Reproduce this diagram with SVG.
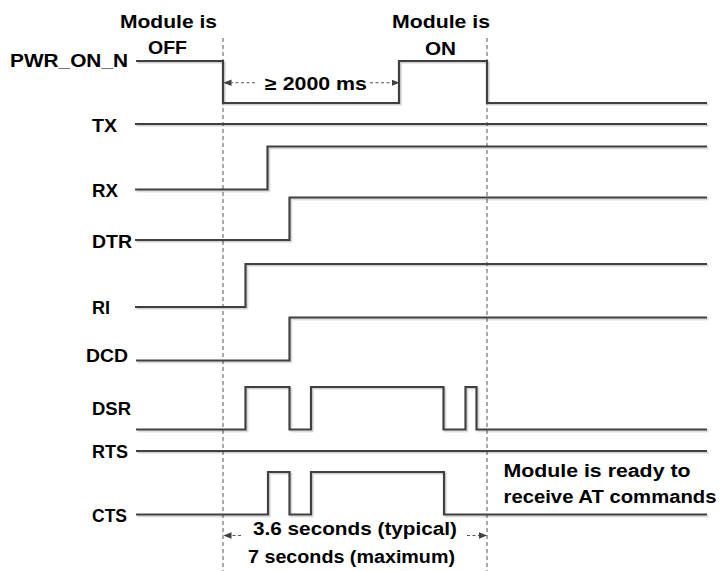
<svg xmlns="http://www.w3.org/2000/svg" width="726" height="571" viewBox="0 0 726 571">
<defs>
<style>
.lbl{font-family:"Liberation Sans",Arial,sans-serif;font-weight:bold;font-size:18px;fill:#000}
.wave{fill:none;stroke:#404040;stroke-width:2.2;stroke-linejoin:miter;filter:url(#sh)}
.guide{fill:none;stroke:#555;stroke-width:1;stroke-dasharray:4,3}
.dim{fill:none;stroke:#555;stroke-width:1.1;stroke-dasharray:3,2.5}
</style>
<filter id="sh" filterUnits="userSpaceOnUse" x="0" y="0" width="726" height="571">
<feDropShadow dx="1.5" dy="1.5" stdDeviation="0.6" flood-color="#000" flood-opacity="0.18"/>
</filter>
<marker id="ah" viewBox="0 0 8 8" refX="7.5" refY="4" markerWidth="8" markerHeight="8" markerUnits="userSpaceOnUse" orient="auto-start-reverse">
<path d="M0,0.8 L8,4 L0,7.2 Z" fill="#404040"/>
</marker>
</defs>
<rect width="726" height="571" fill="#fff"/>

<g id="guides">
<line class="guide" x1="223" y1="38" x2="223" y2="571"/>
<line class="guide" x1="487" y1="38" x2="487" y2="571"/>
</g>

<g id="state-labels">
<text class="lbl" x="120" y="28" textLength="97" lengthAdjust="spacingAndGlyphs">Module is</text>
<text class="lbl" x="148" y="54" textLength="39" lengthAdjust="spacingAndGlyphs">OFF</text>
<text class="lbl" x="392" y="28" textLength="98" lengthAdjust="spacingAndGlyphs">Module is</text>
<text class="lbl" x="425" y="54.5" textLength="31" lengthAdjust="spacingAndGlyphs">ON</text>
</g>

<g id="sig-pwr">
<text class="lbl" x="10" y="67" textLength="118" lengthAdjust="spacingAndGlyphs">PWR_ON_N</text>
<path class="wave" d="M136,61 H223 V103 H399 V61 H487 V103 H707"/>
</g>
<g id="sig-tx">
<text class="lbl" x="92" y="132" textLength="25" lengthAdjust="spacingAndGlyphs">TX</text>
<path class="wave" d="M135,124 H707"/>
</g>
<g id="sig-rx">
<text class="lbl" x="92" y="196.5" textLength="26" lengthAdjust="spacingAndGlyphs">RX</text>
<path class="wave" d="M135,189.5 H267.5 V146.5 H707"/>
</g>
<g id="sig-dtr">
<text class="lbl" x="92" y="247.5" textLength="40" lengthAdjust="spacingAndGlyphs">DTR</text>
<path class="wave" d="M135,240 H289.5 V197.5 H707"/>
</g>
<g id="sig-ri">
<text class="lbl" x="92" y="314" textLength="18" lengthAdjust="spacingAndGlyphs">RI</text>
<path class="wave" d="M135,307 H245.5 V264 H707"/>
</g>
<g id="sig-dcd">
<text class="lbl" x="86" y="362" textLength="42" lengthAdjust="spacingAndGlyphs">DCD</text>
<path class="wave" d="M136,360.5 H289.5 V317.5 H707"/>
</g>
<g id="sig-dsr">
<text class="lbl" x="92" y="415" textLength="39" lengthAdjust="spacingAndGlyphs">DSR</text>
<path class="wave" d="M136,429.5 H245.5 V387 H289.5 V429.5 H311 V387 H443.5 V429.5 H465.5 V387 H476.5 V429.5 H707"/>
</g>
<g id="sig-rts">
<text class="lbl" x="92" y="458" textLength="36" lengthAdjust="spacingAndGlyphs">RTS</text>
<path class="wave" d="M136,451 H707"/>
</g>
<g id="sig-cts">
<text class="lbl" x="92" y="522" textLength="35" lengthAdjust="spacingAndGlyphs">CTS</text>
<path class="wave" d="M136,514.5 H268 V472 H289.5 V514.5 H311 V472 H444 V514.5 H707"/>
</g>

<g id="connectors">
<line class="dim" x1="255" y1="82.7" x2="224" y2="82.7" marker-end="url(#ah)"/>
<line class="dim" x1="370" y1="82.7" x2="399" y2="82.7" marker-end="url(#ah)"/>
<line class="dim" x1="241" y1="535.5" x2="224" y2="535.5" marker-end="url(#ah)"/>
<line class="dim" x1="467" y1="535.5" x2="486.5" y2="535.5" marker-end="url(#ah)"/>
</g>

<g id="annotations">
<text class="lbl" x="265" y="90" textLength="102" lengthAdjust="spacingAndGlyphs">≥ 2000 ms</text>
<text class="lbl" x="253" y="535" textLength="204" lengthAdjust="spacingAndGlyphs">3.6 seconds (typical)</text>
<text class="lbl" x="248" y="563" textLength="207" lengthAdjust="spacingAndGlyphs">7 seconds (maximum)</text>
<text class="lbl" x="503.5" y="476.5" textLength="187" lengthAdjust="spacingAndGlyphs">Module is ready to</text>
<text class="lbl" x="503.5" y="503" textLength="213" lengthAdjust="spacingAndGlyphs">receive AT commands</text>
</g>
</svg>
